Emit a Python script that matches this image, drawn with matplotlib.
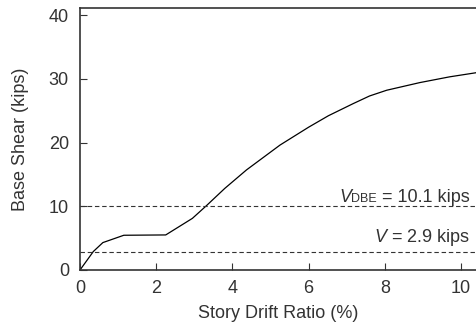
import matplotlib
matplotlib.use("Agg")
import matplotlib.pyplot as plt
from matplotlib.transforms import offset_copy

drift = [0.0, 0.35, 0.6, 1.15, 2.25, 2.95, 3.32, 3.8, 4.37, 5.25, 6.0, 6.52, 7.17, 7.6, 8.05, 8.92, 9.7, 10.4]
shear = [0.0, 2.9, 4.3, 5.45, 5.5, 8.1, 10.1, 12.8, 15.7, 19.6, 22.4, 24.2, 26.1, 27.3, 28.2, 29.4, 30.3, 30.95]
v_dbe = 10.1
v_y = 2.9
xticks = [0, 2, 4, 6, 8, 10]
yticks = [0, 10, 20, 30, 40]

plt.rcParams['font.family'] = ['Liberation Sans', 'DejaVu Sans']
plt.rcParams['mathtext.fontset'] = 'custom'
plt.rcParams['mathtext.rm'] = 'Liberation Sans'
plt.rcParams['mathtext.it'] = 'Liberation Sans:italic'
fig = plt.figure(figsize=(4.77, 3.29), dpi=100)
ax = fig.add_axes([80/477, 59/329, 397/477, 262/329])
tc = '#333333'
fs = 13
ax.plot(drift, shear, color='black', lw=0.9)
ax.axhline(v_dbe, color='#333333', lw=0.8, ls=(0, (4, 2.5)))
ax.axhline(v_y, color='#333333', lw=0.8, ls=(0, (4, 2.5)))

t1 = ax.text(10.23, v_dbe + 0.6, ' = 10.1 kips', ha='right', va='baseline', fontsize=fs, color=tc)
fig.canvas.draw()
r = fig.canvas.get_renderer()
w1 = t1.get_window_extent(r).width * 72 / fig.dpi
t2 = ax.text(10.23, v_dbe + 0.6, 'DBE', ha='right', va='baseline', fontsize=9, color=tc,
             transform=offset_copy(ax.transData, fig=fig, x=-w1, y=0, units='points'))
fig.canvas.draw()
w2 = t2.get_window_extent(r).width * 72 / fig.dpi
ax.text(10.23, v_dbe + 0.6, 'V', ha='right', va='baseline', fontsize=fs, color=tc, style='italic',
        transform=offset_copy(ax.transData, fig=fig, x=-w1 - w2, y=0, units='points'))

ax.text(10.23, v_y + 0.6, r'$\mathit{V}$ = 2.9 kips', ha='right', va='bottom', fontsize=fs, color=tc)
ax.set_xlim(0, 10.42)
ax.set_ylim(0, 41.1)
ax.set_xticks(xticks)
ax.set_yticks(yticks)
ax.tick_params(direction='in', length=5, labelsize=fs, colors=tc, top=False, right=False)
ax.tick_params(axis='y', pad=8)
ax.tick_params(axis='x', pad=7)
ax.spines['right'].set_visible(False)
for s in ['left', 'bottom', 'top']:
    ax.spines[s].set_color('#333333')
    ax.spines[s].set_linewidth(1.2)
ax.set_xlabel('Story Drift Ratio (%)', fontsize=fs, color=tc, labelpad=6)
ax.set_ylabel('Base Shear (kips)', fontsize=fs, color=tc, labelpad=14)
fig.savefig('out.png', dpi=100)
